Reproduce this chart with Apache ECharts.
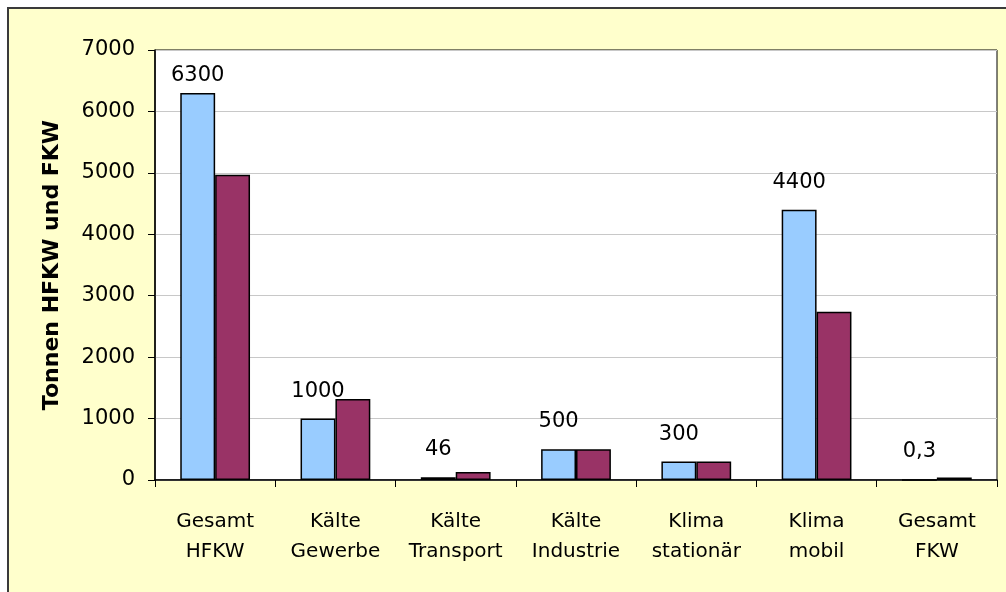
<!DOCTYPE html>
<html>
<head>
<meta charset="utf-8">
<script src="https://cdn.jsdelivr.net/npm/echarts@6/dist/echarts.min.js"></script>
<style>
html,body{margin:0;padding:0;background:#fff;}
#c{width:1006px;height:592px;}
</style>
</head>
<body>
<div id="c"></div>
<script>
const categories = ['Gesamt\nHFKW','Kälte\nGewerbe','Kälte\nTransport','Kälte\nIndustrie','Klima\nstationär','Klima\nmobil','Gesamt\nFKW'];
const seriesA = [6300, 1000, 46, 500, 300, 4400, 0.3];
const seriesB = [4970, 1320, 130, 500, 300, 2740, 40];
const yTicks = [0, 1000, 2000, 3000, 4000, 5000, 6000, 7000];

const FONT = 'DejaVu Sans, Liberation Sans, Arial';
const chart = echarts.init(document.getElementById('c'));
const fmt = v => String(v).replace('.', ',');
chart.setOption({
  backgroundColor: '#ffffff',
  animation: false,
  graphic: [{
    type: 'rect', z: -10, silent: true,
    shape: {x: 8, y: 8, width: 1010, height: 600},
    style: {fill: '#FFFFCC', stroke: '#3a3a3a', lineWidth: 2}
  }],
  grid: {left: 155, right: 9, top: 50, bottom: 112, show: true, backgroundColor: '#ffffff', borderColor: '#000', borderWidth: 1},
  xAxis: {
    type: 'category', data: categories,
    axisLine: {lineStyle: {color: '#000', width: 1.5}},
    axisTick: {show: true, interval: 0, length: 7, lineStyle: {color: '#000'}},
    axisLabel: {interval: 0, color: '#000', fontFamily: FONT, fontSize: 20, lineHeight: 30, margin: 27, hideOverlap: false}
  },
  yAxis: {
    type: 'value', min: yTicks[0], max: yTicks[yTicks.length-1], interval: 1000,
    name: 'Tonnen HFKW und FKW', nameLocation: 'middle', nameGap: 92, nameRotate: 90,
    nameTextStyle: {color: '#000', fontFamily: FONT, fontSize: 22, fontWeight: 'bold'},
    axisLine: {show: true, lineStyle: {color: '#000', width: 1.5}},
    axisTick: {show: true, length: 7, lineStyle: {color: '#000'}},
    axisLabel: {color: '#000', fontFamily: FONT, fontSize: 21, margin: 20, formatter: v => String(v)},
    splitLine: {lineStyle: {color: '#c8c8c8', width: 1}}
  },
  series: [
    {
      type: 'bar', barGap: '0%', barCategoryGap: '42%',
      data: seriesA.map((v, i) => i === 0 ? {value: v, label: {distance: 7}} : v),
      itemStyle: {color: '#99CCFF', borderColor: '#000', borderWidth: 1.5},
      label: {show: true, position: 'top', distance: 17, color: '#000', fontFamily: FONT, fontSize: 21,
        formatter: p => fmt(p.value)}
    },
    {
      type: 'bar', barGap: '0%', barCategoryGap: '42%',
      data: seriesB,
      itemStyle: {color: '#993366', borderColor: '#000', borderWidth: 1.5}
    }
  ]
});
</script>
</body>
</html>
